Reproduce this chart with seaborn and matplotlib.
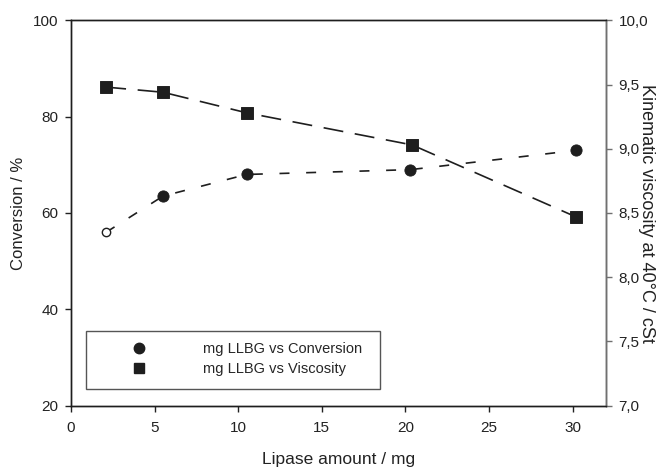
import numpy as np
import pandas as pd
import seaborn as sns
import matplotlib.pyplot as plt
from matplotlib.patches import Rectangle
from matplotlib.lines import Line2D
from matplotlib.ticker import FuncFormatter

# Dữ liệu
lipase_conv = [2.1, 5.5, 10.5, 20.3, 30.2]
conversion = [56.0, 63.5, 68.0, 69.0, 73.0]
lipase_visc = [2.1, 5.5, 10.5, 20.4, 30.2]
viscosity = [9.48, 9.44, 9.28, 9.03, 8.47]

x_ticks = [0, 5, 10, 15, 20, 25, 30]
y_ticks = [20, 40, 60, 80, 100]
y2_ticks = [7.0, 7.5, 8.0, 8.5, 9.0, 9.5, 10.0]

df_conv = pd.DataFrame({"x": lipase_conv, "y": conversion})
df_visc = pd.DataFrame({"x": lipase_visc, "y": viscosity})

sns.set_style("ticks")
plt.rcParams['font.family'] = ['Liberation Sans', 'DejaVu Sans']

fig = plt.figure(figsize=(6.65, 4.69), dpi=100)
ax = fig.add_axes([71 / 665, 1 - 405.7 / 469, (606 - 71) / 665, (405.7 - 20.3) / 469])
ax2 = ax.twinx()

dark = "#1e1e1e"

# Đường chuyển hóa (nét đứt ngắn)
sns.lineplot(data=df_conv, x="x", y="y", ax=ax, color=dark, lw=1.2,
             dashes=False, legend=False)
ax.lines[-1].set_dashes((6, 10))
# Điểm đầu rỗng, các điểm còn lại đặc
ax.plot(df_conv["x"][:1], df_conv["y"][:1], "o", mfc="white", mec=dark,
        ms=6.0, mew=1.0, zorder=4)
sns.scatterplot(data=df_conv.iloc[1:], x="x", y="y", ax=ax, color=dark,
                marker="o", s=65, edgecolor=dark, zorder=4, legend=False)

# Đường độ nhớt (nét đứt dài)
sns.lineplot(data=df_visc, x="x", y="y", ax=ax2, color=dark, lw=1.2,
             dashes=False, legend=False)
ax2.lines[-1].set_dashes((12, 7))
sns.scatterplot(data=df_visc, x="x", y="y", ax=ax2, color=dark,
                marker="s", s=70, edgecolor=dark, zorder=4, legend=False)

ax.set_xlim(0, 32)
ax.set_ylim(20, 100)
ax2.set_ylim(7.0, 10.0)
ax.set_xticks(x_ticks)
ax.set_yticks(y_ticks)
ax2.set_yticks(y2_ticks)
ax2.yaxis.set_major_formatter(FuncFormatter(lambda v, p: f"{v:.1f}".replace(".", ",")))

for a in (ax, ax2):
    for s in a.spines.values():
        s.set_linewidth(1.0)
        s.set_color(dark)
ax2.spines["right"].set_color("#707070")
ax.tick_params(axis="y", direction="out", length=4, width=1.0,
               labelsize=11, colors="#222222", pad=5)
ax.tick_params(axis="x", direction="out", length=4, width=1.0,
               labelsize=11, colors="#222222", pad=7)
ax2.tick_params(axis="y", direction="out", length=4, width=1.0,
                labelsize=11, colors="#707070", labelcolor="#222222", pad=5)

ax.set_xlabel("Lipase amount / mg", fontsize=12.5, color="#222222", labelpad=12)
ax.set_ylabel("Conversion / %", fontsize=12, color="#222222", labelpad=5)
ax2.set_ylabel("Kinematic viscosity at 40\u00b0C / cSt", fontsize=13,
               color="#222222", rotation=270, labelpad=5)

# Khung chú giải
ax.add_patch(Rectangle((15 / 535, 16.7 / 385.4), (380 - 86) / 535, (389 - 331) / 385.4,
                       transform=ax.transAxes, fill=False, edgecolor="#555555",
                       lw=1.0, zorder=5))
handles = [Line2D([], [], ls="none", marker="o", color=dark, ms=7.5),
           Line2D([], [], ls="none", marker="s", color=dark, ms=7.5)]
ax.legend(handles, ["mg LLBG vs Conversion", "mg LLBG vs Viscosity"],
          loc="upper left", bbox_to_anchor=((124 - 71) / 535, (405.7 - 342) / 385.4),
          frameon=False, fontsize=10.5, handlelength=2.0, handletextpad=3.4,
          labelspacing=0.4, borderpad=0, borderaxespad=0)

fig.savefig("out.png", dpi=100)
